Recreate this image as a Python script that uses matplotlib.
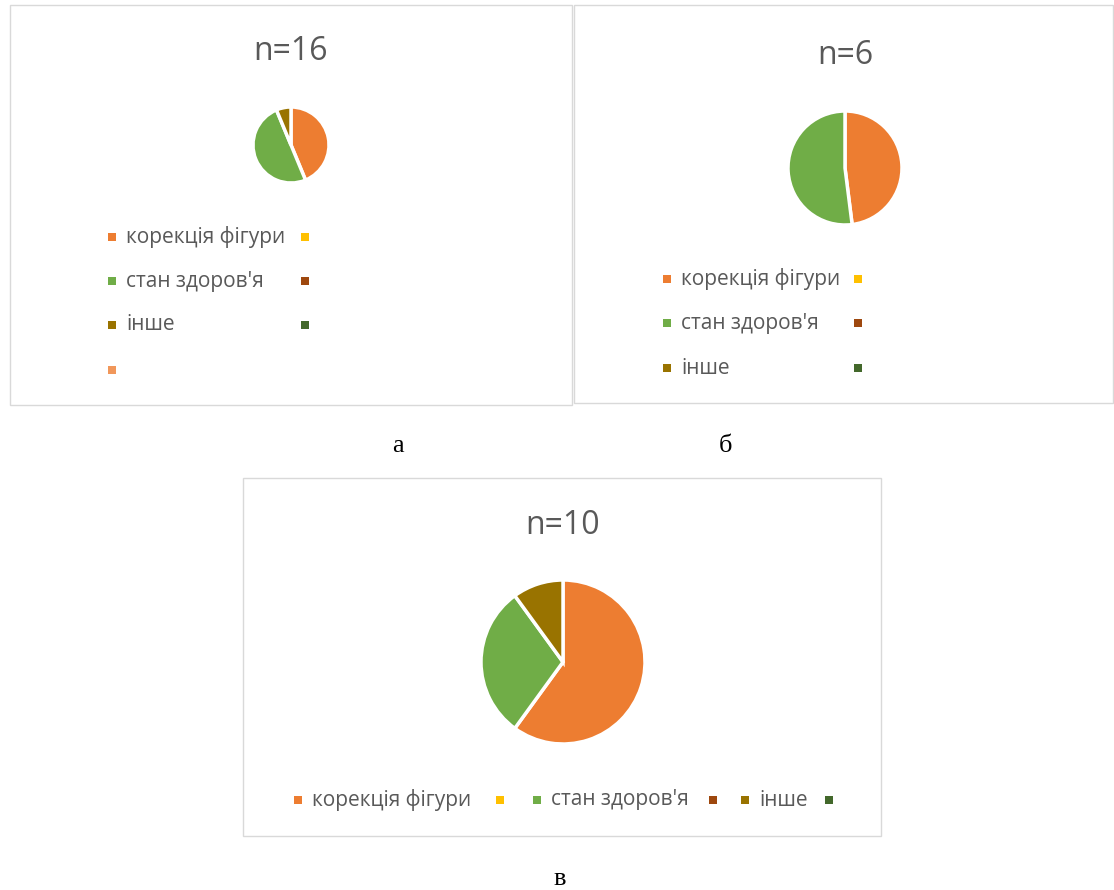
import matplotlib.pyplot as plt
from matplotlib.patches import Rectangle

plt.rcParams['font.family'] = ['Open Sans', 'DejaVu Sans']

# data
categories = ['корекція фігури', "стан здоров'я", 'інше']
values_a = [7, 8, 1]
values_b = [48, 52]
values_c = [6, 3, 1]
titles = ['n=16', 'n=6', 'n=10']
panel_labels = ['а', 'б', 'в']

# office-like palette
pie_colors = ['#ED7D31', '#70AD47', '#997300']
leg_colors = ['#ED7D31', '#FFC000', '#70AD47', '#9E480E', '#997300', '#43682B', '#F1975A']
leg_labels = ['корекція фігури', '', "стан здоров'я", '', 'інше', '', '']

W, H = 1114, 890
fig = plt.figure(figsize=(W / 100, H / 100), dpi=100)

# overlay axes in pixel coordinates for frames, titles and legends
ov = fig.add_axes([0, 0, 1, 1])
ov.set_xlim(0, W)
ov.set_ylim(H, 0)
ov.axis('off')

txt = '#595959'
frames = [(10, 5, 562, 400), (574, 5, 539, 398), (243, 478, 638, 358)]
for x, y, w, h in frames:
    ov.add_patch(Rectangle((x, y), w, h, fill=False, ec='#D9D9D9', lw=1))

title_pos = [(290, 52), (845, 55), (563, 526)]
for (x, y), t in zip(title_pos, titles):
    ov.text(x, y, t, ha='center', va='center', fontsize=23, color=txt)

lab_pos = [(398, 446), (725, 446), (560, 879)]
for (x, y), t in zip(lab_pos, panel_labels):
    ov.text(x, y, t, ha='center', va='center', fontsize=19, color='black',
            family='Liberation Serif')


def pie(cx, cy, r, vals):
    ax = fig.add_axes([(cx - r) / W, 1 - (cy + r) / H, 2 * r / W, 2 * r / H])
    ax.pie(vals, colors=pie_colors[:len(vals)], startangle=90, counterclock=False,
           radius=1, wedgeprops=dict(edgecolor='white', linewidth=2.5))
    ax.set_xlim(-1, 1)
    ax.set_ylim(-1, 1)
    ax.set_aspect('equal')
    ax.axis('off')


pie(291, 145, 38, values_a)
pie(845, 168, 57, values_b)
pie(563, 662, 82, values_c)


def legend(xs, ys, n):
    for i in range(n):
        x = xs[i % len(xs)]
        y = ys[i // len(xs)]
        ov.add_patch(Rectangle((x - 4, y - 4), 8, 8, color=leg_colors[i], lw=0))
        if leg_labels[i]:
            ov.text(x + 14, y, leg_labels[i], ha='left', va='center',
                    fontsize=15, color=txt)


legend([112, 305], [237, 281, 325, 370], 7)
legend([667, 858], [279, 323, 368], 6)
legend([298, 500, 537, 713, 745, 829], [800], 6)

fig.savefig('out.png', dpi=100)
